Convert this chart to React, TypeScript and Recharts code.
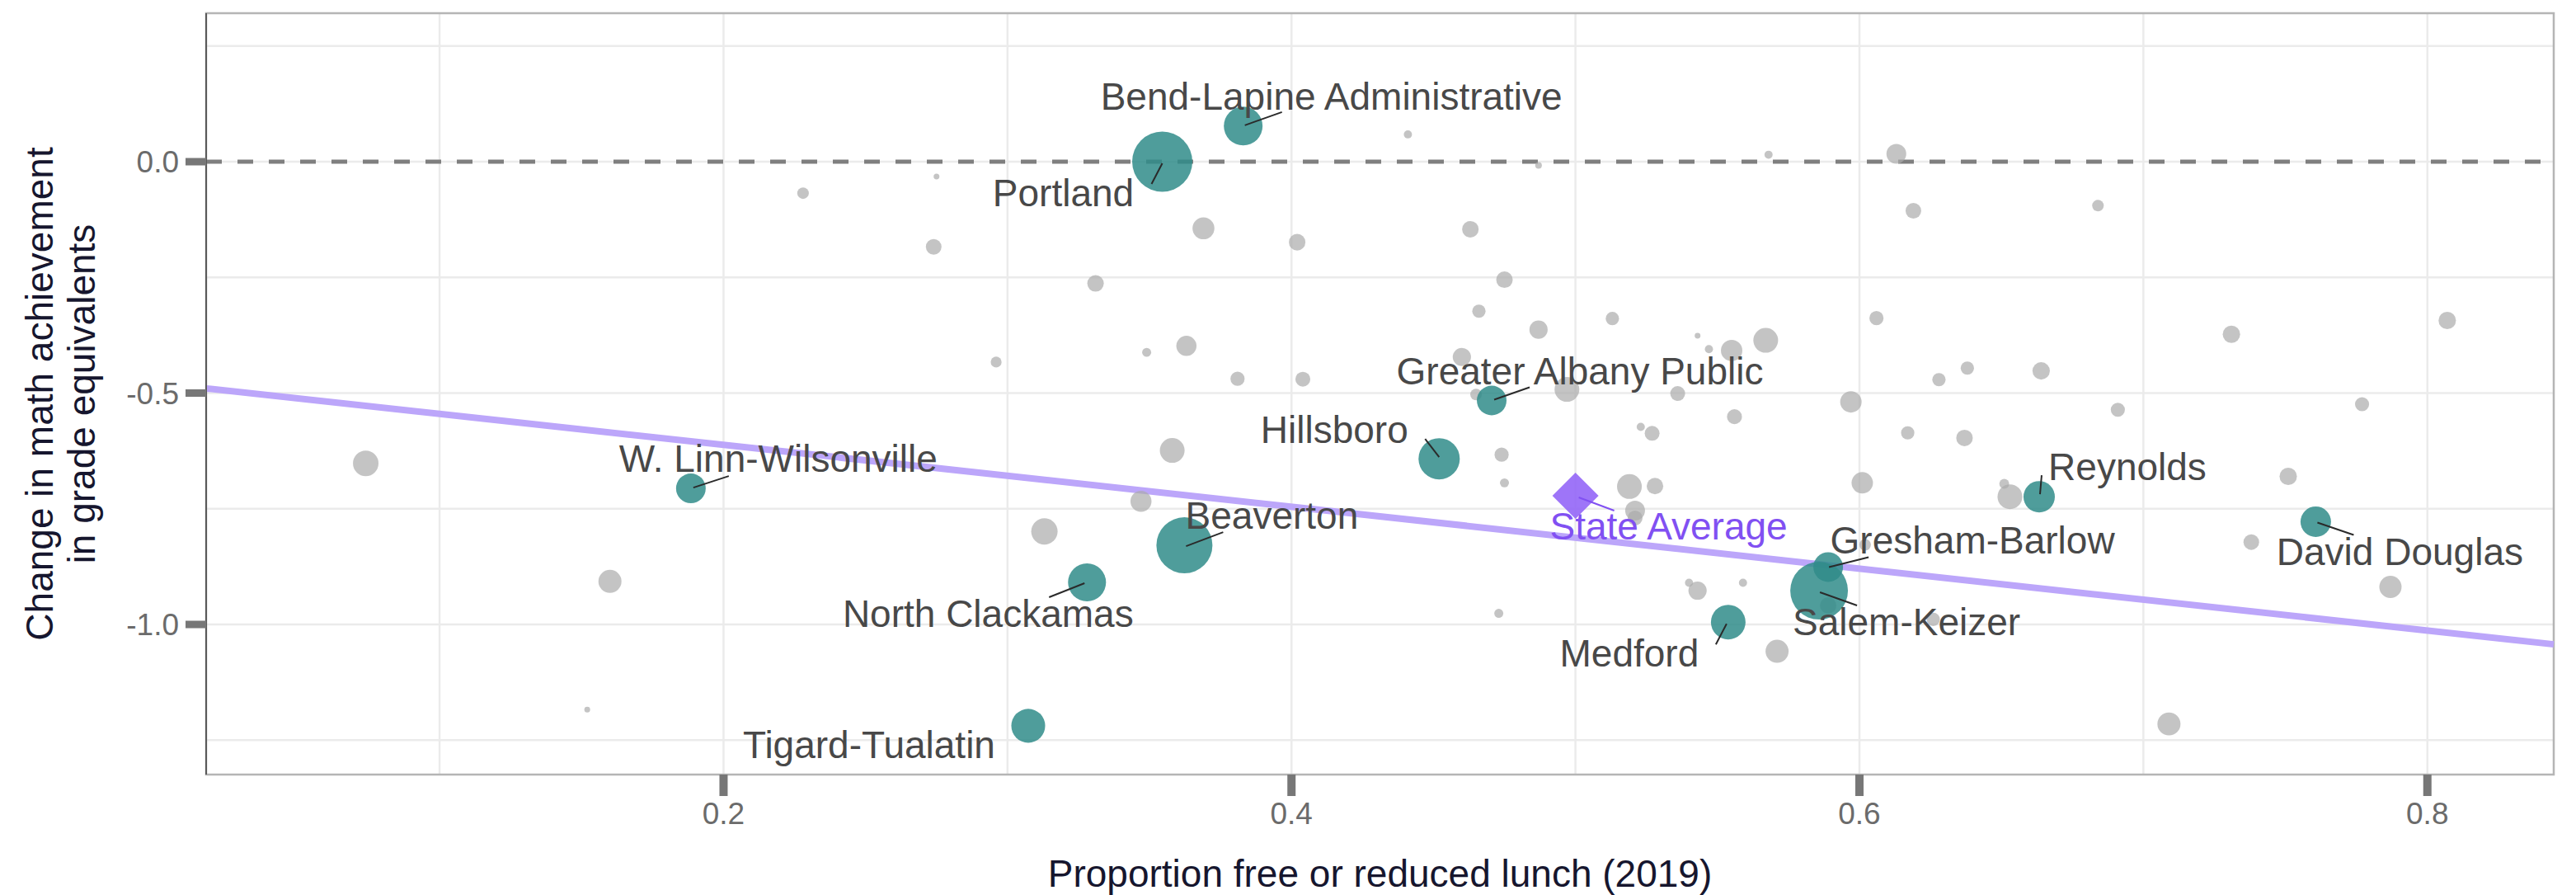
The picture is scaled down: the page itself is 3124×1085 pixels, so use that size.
import React from 'react';
import {
  ScatterChart,
  Scatter,
  XAxis,
  YAxis,
  ZAxis,
  CartesianGrid,
  ReferenceLine,
  ReferenceArea,
  Label,
} from 'recharts';

const FONT = '"Liberation Sans", Arial, Helvetica, sans-serif';

// districts without a label (grey bubbles)
const otherFrl = [
  0.074, 0.16, 0.152, 0.228, 0.275, 0.274, 0.369, 0.402, 0.331, 0.296, 0.349, 0.363,
  0.381, 0.404, 0.358, 0.347, 0.313, 0.441, 0.487, 0.568, 0.613, 0.619, 0.463, 0.475,
  0.466, 0.513, 0.606, 0.487, 0.567, 0.543, 0.547, 0.555, 0.46, 0.497, 0.465, 0.536,
  0.597, 0.638, 0.628, 0.556, 0.523, 0.527, 0.617, 0.637, 0.474, 0.475, 0.519, 0.528,
  0.521, 0.521, 0.601, 0.602, 0.589, 0.626, 0.54, 0.543, 0.559, 0.473, 0.571, 0.684,
  0.807, 0.731, 0.664, 0.691, 0.777, 0.653, 0.651, 0.751, 0.738, 0.787, 0.709,
];
const otherChange = [
  -0.652, -0.907, -1.184, -0.068, -0.032, -0.184, -0.144, -0.174, -0.263, -0.433, -0.412, -0.398,
  -0.469, -0.47, -0.624, -0.734, -0.799, 0.059, -0.008, 0.015, 0.017, -0.106, -0.146, -0.255,
  -0.323, -0.339, -0.338, -0.363, -0.386, -0.376, -0.405, -0.408, -0.422, -0.492, -0.503, -0.501,
  -0.519, -0.446, -0.471, -0.551, -0.573, -0.587, -0.586, -0.597, -0.633, -0.694, -0.702, -0.701,
  -0.754, -0.77, -0.694, -0.828, -0.959, -0.989, -0.91, -0.927, -0.91, -0.976, -1.058, -0.095,
  -0.343, -0.373, -0.452, -0.536, -0.524, -0.724, -0.696, -0.68, -0.822, -0.919, -1.215,
];
// enrollment, thousands of students
const otherEnroll = [
  8.8, 7.2, 0.45, 1.8, 0.45, 3.3, 6.5, 3.7, 3.7, 1.6, 1.1, 5.5,
  2.7, 3.0, 8.3, 6.0, 9.4, 0.9, 0.6, 0.9, 5.3, 3.3, 3.7, 3.7,
  2.4, 2.4, 2.7, 4.5, 8.3, 0.45, 0.9, 6.2, 4.5, 8.3, 1.8, 3.0,
  6.2, 2.4, 2.4, 3.0, 0.9, 3.0, 2.4, 3.7, 2.7, 1.1, 8.3, 3.7,
  5.3, 3.0, 6.2, 1.8, 3.7, 2.4, 0.9, 4.5, 0.9, 1.1, 7.2, 1.8,
  4.1, 4.1, 4.1, 2.7, 2.7, 8.3, 1.3, 4.1, 3.3, 6.7, 7.2,
];

// labelled districts (teal bubbles)
const namedDistricts = [
  'Portland', 'Bend-Lapine Administrative', 'W. Linn-Wilsonville', 'Hillsboro',
  'Greater Albany Public', 'Beaverton', 'North Clackamas', 'Tigard-Tualatin',
  'Gresham-Barlow', 'Salem-Keizer', 'Medford', 'Reynolds', 'David Douglas',
];
const namedFrl = [
  0.3545, 0.383, 0.1885, 0.452, 0.4705, 0.3623, 0.328, 0.3073, 0.589, 0.5858, 0.5538, 0.6633, 0.7607,
];
const namedChange = [
  0.0, 0.077, -0.706, -0.642, -0.516, -0.829, -0.909, -1.219, -0.876, -0.927, -0.995, -0.724, -0.778,
];
const namedEnroll = [49, 20.3, 11.9, 23, 11.9, 42.5, 19.5, 15.5, 11.9, 45, 16.2, 13.3, 12.6];

const stateName = 'State Average';
const stateFrl = 0.5;
const stateChange = -0.722;

// fitted line end points
const fitFrl = [0.0178, 0.8445];
const fitChange = [-0.49, -1.043];

const xTicks = [0.2, 0.4, 0.6, 0.8];
const yTicks = [-1.0, -0.5, 0.0];
const xGrid = [0.1, 0.2, 0.3, 0.4, 0.5, 0.6, 0.7, 0.8];
const yGrid = [-1.25, -1.0, -0.75, -0.5, -0.25, 0.0, 0.25];

const otherData = otherFrl.map((frl, i) => ({ frl, change: otherChange[i], n: otherEnroll[i] }));
const namedData = namedDistricts.map((name, i) => ({
  name,
  frl: namedFrl[i],
  change: namedChange[i],
  n: namedEnroll[i],
}));
const stateData = [{ name: stateName, frl: stateFrl, change: stateChange }];

const TEAL = '#308c8a';
const GREY = '#ababab';
const PURPLE = '#9466f7';
const PURPLE_TEXT = '#8150f2';
const LINE_PURPLE = '#bca6fa';
const LABEL_GREY = '#484848';

// repel-style label offsets in px from the bubble centre
const labelPlacement: Record<string, { dx: number; dy: number; lead?: number[] }> = {
  'Bend-Lapine Administrative': { dx: 107, dy: -20, lead: [2, -1, 47, -17] },
  Portland: { dx: -120, dy: 54, lead: [0, 2, -13, 27] },
  'W. Linn-Wilsonville': { dx: 106, dy: -20, lead: [3, -1, 46, -15] },
  Hillsboro: { dx: -127, dy: -19, lead: [0, -2, -17, -24] },
  'Greater Albany Public': { dx: 107, dy: -19, lead: [3, -1, 46, -16] },
  Beaverton: { dx: 106, dy: -20, lead: [2, 1, 47, -16] },
  'North Clackamas': { dx: -120, dy: 54, lead: [-3, 1, -46, 18] },
  'Tigard-Tualatin': { dx: -193, dy: 39 },
  'Gresham-Barlow': { dx: 175, dy: -16, lead: [1, 0, 49, -12] },
  'Salem-Keizer': { dx: 106, dy: 54, lead: [1, 2, 46, 18] },
  Medford: { dx: -120, dy: 54, lead: [-2, 2, -15, 27] },
  Reynolds: { dx: 107, dy: -20, lead: [1, -3, 3, -26] },
  'David Douglas': { dx: 102, dy: 53, lead: [2, 1, 46, 16] },
  'State Average': { dx: 113, dy: 53, lead: [4, 2, 47, 18] },
};

const bubble = (fill: string, opacity: number) => (props: any) => {
  const { cx, cy, width, size } = props;
  const r = width ? width / 2 : Math.sqrt((size ?? 64) / Math.PI);
  return <circle cx={cx} cy={cy} r={r} fill={fill} fillOpacity={opacity} />;
};

const Diamond = (props: any) => {
  const { cx, cy } = props;
  const h = 28;
  return (
    <polygon
      points={`${cx},${cy - h} ${cx + h},${cy} ${cx},${cy + h} ${cx - h},${cy}`}
      fill={PURPLE}
      fillOpacity={0.9}
    />
  );
};

const DistrictLabel = (props: any) => {
  const { cx, cy, payload } = props;
  const p = labelPlacement[payload?.name];
  if (!p) return null;
  const isState = payload.name === stateName;
  return (
    <g>
      {p.lead && (
        <line
          x1={cx + p.lead[0]}
          y1={cy + p.lead[1]}
          x2={cx + p.lead[2]}
          y2={cy + p.lead[3]}
          stroke={isState ? PURPLE_TEXT : '#2a2a2a'}
          strokeWidth={2}
        />
      )}
      <text
        x={cx + p.dx}
        y={cy + p.dy}
        textAnchor="middle"
        fontSize={46}
        fontFamily={FONT}
        fill={isState ? PURPLE_TEXT : LABEL_GREY}
      >
        {payload.name}
      </text>
    </g>
  );
};

const YTitle = (props: any) => {
  const vb = props.viewBox || { x: 0, y: 16, width: 250, height: 923 };
  const cy = vb.y + vb.height / 2;
  return (
    <text
      transform={`translate(64, ${cy}) rotate(-90)`}
      textAnchor="middle"
      fontSize={46}
      fontFamily={FONT}
      fill="#16162e"
    >
      <tspan x={0} dy={0}>Change in math achievement</tspan>
      <tspan x={0} dy={51}>in grade equivalents</tspan>
    </text>
  );
};

export default function App() {
  return (
    <div
      style={{
        position: 'absolute',
        left: 0,
        top: 0,
        width: 3124,
        height: 1085,
        background: '#ffffff',
        fontFamily: FONT,
      }}
    >
      <ScatterChart width={3124} height={1085} margin={{ top: 16, right: 27, bottom: 0, left: 0 }}>
        <CartesianGrid
          stroke="#ebebeb"
          strokeWidth={2.5}
          horizontalValues={yGrid}
          verticalValues={xGrid}
        />
        <XAxis
          type="number"
          dataKey="frl"
          domain={[fitFrl[0], fitFrl[1]]}
          allowDataOverflow
          ticks={xTicks}
          interval={0}
          tickFormatter={(v: number) => v.toFixed(1)}
          axisLine={false}
          tickSize={26}
          tickMargin={8}
          tickLine={{ stroke: '#777777', strokeWidth: 10 }}
          tick={{ fontSize: 37, fill: '#6b6b6b' }}
          height={146}
        >
          <Label
            value="Proportion free or reduced lunch (2019)"
            position="insideBottom"
            offset={10}
            fontSize={46}
            fill="#16162e"
          />
        </XAxis>
        <YAxis
          type="number"
          dataKey="change"
          domain={[-1.3244, 0.3209]}
          allowDataOverflow
          ticks={yTicks}
          interval={0}
          tickFormatter={(v: number) => v.toFixed(1)}
          axisLine={{ stroke: '#5a5a5a', strokeWidth: 2 }}
          tickSize={25}
          tickMargin={8}
          tickLine={{ stroke: '#777777', strokeWidth: 9 }}
          tick={{ fontSize: 37, fill: '#6b6b6b' }}
          width={250}
          label={<YTitle />}
        />
        <ZAxis type="number" dataKey="n" domain={[0, 49]} range={[0, 4185]} />
        <ReferenceArea
          x1={fitFrl[0]}
          x2={fitFrl[1]}
          y1={-1.3244}
          y2={0.3209}
          fill="none"
          stroke="#b5b5b5"
          strokeWidth={2.5}
          ifOverflow="visible"
        />
        <ReferenceLine y={0} stroke="#7f7f7f" strokeWidth={5} strokeDasharray="19 19" />
        <ReferenceLine
          segment={[
            { x: fitFrl[0], y: fitChange[0] },
            { x: fitFrl[1], y: fitChange[1] },
          ]}
          stroke={LINE_PURPLE}
          strokeWidth={8}
        />
        <Scatter data={otherData} shape={bubble(GREY, 0.7)} isAnimationActive={false} />
        <Scatter data={namedData} shape={bubble(TEAL, 0.85)} isAnimationActive={false} />
        <Scatter data={stateData} shape={<Diamond />} isAnimationActive={false} />
        <Scatter data={namedData} shape={<DistrictLabel />} isAnimationActive={false} />
        <Scatter data={stateData} shape={<DistrictLabel />} isAnimationActive={false} />
      </ScatterChart>
    </div>
  );
}
